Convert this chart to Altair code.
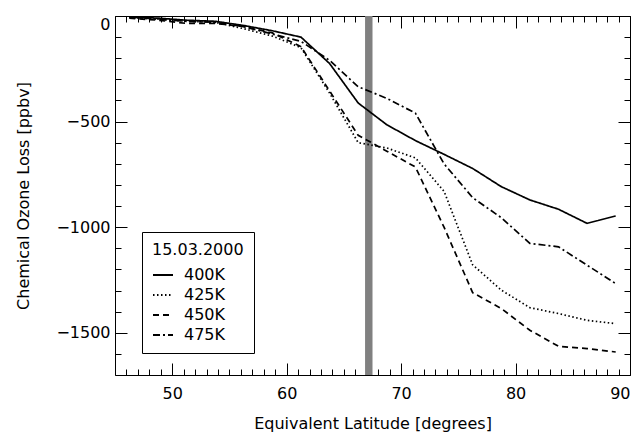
import altair as alt
import pandas as pd

# ---- data ----
lat = [46.25, 48.75, 51.25, 53.75, 56.25, 58.75, 61.25, 63.75, 66.25,
       68.75, 71.25, 73.75, 76.25, 78.75, 81.25, 83.75, 86.25, 88.75]
loss_400K = [-5, -10, -20, -25, -45, -70, -100, -225, -412,
             -515, -590, -655, -722, -808, -871, -915, -982, -947]
loss_425K = [-8, -15, -25, -30, -60, -95, -150, -365, -600,
             -625, -672, -830, -1178, -1298, -1381, -1409, -1441, -1457]
loss_450K = [-10, -20, -35, -35, -50, -80, -145, -355, -565,
             -640, -715, -1000, -1310, -1385, -1488, -1564, -1575, -1591]
loss_475K = [-5, -15, -25, -30, -50, -85, -120, -210, -335,
             -390, -460, -700, -860, -955, -1077, -1093, -1180, -1267]
levels = ["400K", "425K", "450K", "475K"]
legend_title = "15.03.2000"
band_start = [66.85]
band_end = [67.5]
x_major = [50, 60, 70, 80, 90]
x_minor = list(range(46, 90))
y_major = [0, -500, -1000, -1500]
y_minor = list(range(-1700, 1, 100))

rows = []
for lev, vals in zip(levels, [loss_400K, loss_425K, loss_450K, loss_475K]):
    for la, v in zip(lat, vals):
        rows.append({"lat": la, "loss": v, "level": lev})
df = pd.DataFrame(rows)
band_df = pd.DataFrame({"x1": band_start, "x2": band_end})

FONT = "DejaVu Sans"
W, H = 515, 359
xscale = alt.Scale(domain=[45, 90], nice=False, zero=False)
yscale = alt.Scale(domain=[-1700, 0], nice=False, zero=False)

band = alt.Chart(band_df).mark_rect(color="#808080").encode(
    x=alt.X("x1:Q", scale=xscale, axis=None),
    x2="x2:Q",
)

lines = alt.Chart(df).mark_line(color="black", strokeWidth=1.7).encode(
    x=alt.X("lat:Q", scale=xscale,
            axis=alt.Axis(orient="bottom", values=x_major, tickSize=12, offset=-12,
                          labelPadding=10, format="d",
                          title="Equivalent Latitude [degrees]", titlePadding=14)),
    y=alt.Y("loss:Q", scale=yscale,
            axis=alt.Axis(orient="left", values=y_major, tickSize=12, offset=-12,
                          labelPadding=5, labelFlush=True, format="d",
                          title="Chemical Ozone Loss [ppbv]", titlePadding=24)),
    strokeDash=alt.StrokeDash(
        "level:N",
        scale=alt.Scale(domain=levels,
                        range=[[1, 0], [1.5, 2.5], [6, 4], [7, 3, 2, 3]]),
        legend=alt.Legend(orient="none", legendX=27, legendY=216,
                          title=legend_title, strokeColor="black",
                          padding=10, symbolType="stroke", symbolSize=400,
                          symbolStrokeWidth=1.8, symbolStrokeColor="black",
                          labelOffset=10, rowPadding=1, titlePadding=6),
    ),
)

def ghost(xaxis, yaxis):
    return alt.Chart(df).mark_point(opacity=0).encode(
        x=alt.X("lat:Q", scale=xscale, axis=xaxis),
        y=alt.Y("loss:Q", scale=yscale, axis=yaxis),
    )

g1 = ghost(
    alt.Axis(orient="bottom", values=x_minor, tickSize=6, offset=-6, labels=False, title=None),
    alt.Axis(orient="left", values=y_minor, tickSize=6, offset=-6, labels=False, title=None),
)
g2 = ghost(
    alt.Axis(orient="top", values=x_major, tickSize=12, offset=-12, labels=False, title=None),
    alt.Axis(orient="right", values=y_major, tickSize=12, offset=-12, labels=False, title=None),
)
g3 = ghost(
    alt.Axis(orient="top", values=x_minor, tickSize=6, offset=-6, labels=False, title=None),
    alt.Axis(orient="right", values=y_minor, tickSize=6, offset=-6, labels=False, title=None),
)

chart = alt.layer(band, lines, g1, g2, g3).resolve_axis(
    x="independent", y="independent"
).properties(
    width=W, height=H,
    background="white",
    autosize=alt.AutoSizeParams(type="none"),
    padding={"left": 115, "top": 16, "right": 11, "bottom": 63},
).configure_view(
    stroke="black", strokeWidth=1
).configure_axis(
    domain=False, grid=False, tickColor="black", tickWidth=1,
    labelFont=FONT, labelFontSize=16, labelColor="black",
    titleFont=FONT, titleFontSize=16, titleFontWeight="normal", titleColor="black",
).configure_legend(
    labelFont=FONT, labelFontSize=16, labelColor="black",
    titleFont=FONT, titleFontSize=16, titleFontWeight="normal", titleColor="black",
)

chart.save("out.html", embed_options={"renderer": "svg", "actions": False})
